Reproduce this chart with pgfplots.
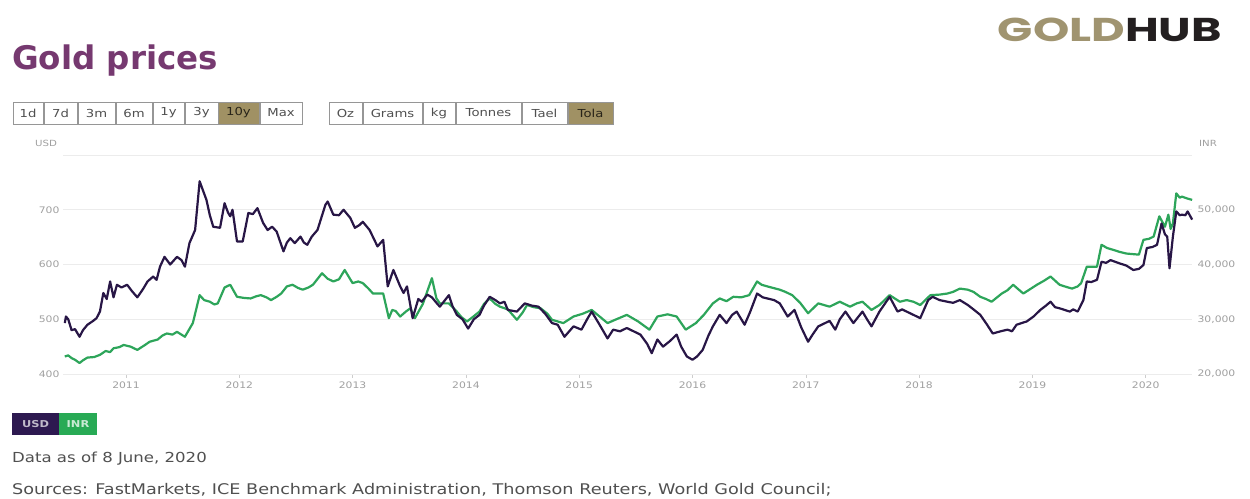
\documentclass[border=0pt]{standalone}
\usepackage{fontspec}
\usepackage{graphicx}
\usepackage{pgfplots}
\pgfplotsset{compat=1.18}
\setmainfont{DejaVu Sans}
\newfontfamily\sm{DejaVu Sans}[FakeStretch=1.2]
\newfontfamily\logofont{Poppins}
\definecolor{titlecol}{RGB}{118,57,112}
\definecolor{goldcol}{RGB}{160,148,112}
\definecolor{hubcol}{RGB}{35,31,32}
\definecolor{hilite}{RGB}{160,145,100}
\definecolor{btnborder}{RGB}{150,150,150}
\definecolor{btntext}{RGB}{80,80,80}
\definecolor{usdcol}{RGB}{40,22,70}
\definecolor{inrcol}{RGB}{45,165,90}
\definecolor{usdbox}{RGB}{45,25,80}
\definecolor{inrbox}{RGB}{40,170,85}
\definecolor{gridcol}{RGB}{236,236,236}
\definecolor{axiscol}{RGB}{205,205,205}
\definecolor{tickcol}{RGB}{160,160,160}
\definecolor{foottext}{RGB}{80,80,80}

\pgfplotstableread{
x y
2010.46 493
2010.47 505
2010.49 500
2010.52 480
2010.55 482
2010.59 468
2010.62 480
2010.66 490
2010.71 497
2010.74 502
2010.77 514
2010.80 548
2010.83 537
2010.86 569
2010.89 540
2010.92 563
2010.96 558
2011.01 563
2011.05 552
2011.10 540
2011.15 555
2011.19 569
2011.24 578
2011.27 572
2011.30 596
2011.34 614
2011.39 600
2011.45 614
2011.49 608
2011.52 596
2011.56 639
2011.61 663
2011.65 752
2011.68 735
2011.71 718
2011.74 690
2011.77 669
2011.83 667
2011.87 712
2011.90 695
2011.92 688
2011.94 700
2011.98 642
2012.03 642
2012.08 694
2012.12 692
2012.16 703
2012.21 676
2012.25 663
2012.29 669
2012.33 660
2012.39 624
2012.42 640
2012.45 648
2012.49 639
2012.54 651
2012.57 640
2012.60 636
2012.64 651
2012.69 663
2012.76 709
2012.78 715
2012.83 691
2012.88 690
2012.92 700
2012.98 685
2013.02 667
2013.06 672
2013.09 678
2013.15 663
2013.22 633
2013.27 645
2013.31 560
2013.36 590
2013.39 575
2013.42 560
2013.45 548
2013.48 560
2013.53 502
2013.58 537
2013.61 532
2013.66 545
2013.70 540
2013.74 530
2013.77 523
2013.85 544
2013.88 525
2013.92 508
2013.97 500
2014.02 483
2014.07 500
2014.12 508
2014.16 525
2014.21 541
2014.26 535
2014.30 529
2014.34 532
2014.37 517
2014.45 514
2014.52 529
2014.58 525
2014.64 523
2014.70 510
2014.76 493
2014.81 490
2014.87 468
2014.95 487
2015.02 481
2015.07 500
2015.11 514
2015.18 490
2015.25 465
2015.30 481
2015.36 478
2015.42 484
2015.48 478
2015.54 472
2015.60 455
2015.64 438
2015.69 463
2015.74 450
2015.80 460
2015.86 472
2015.90 450
2015.95 432
2016.00 426
2016.04 432
2016.09 444
2016.14 470
2016.18 487
2016.24 508
2016.30 493
2016.35 508
2016.39 514
2016.46 490
2016.51 514
2016.57 547
2016.62 540
2016.66 538
2016.72 535
2016.77 529
2016.84 505
2016.90 517
2016.96 485
2017.02 459
2017.06 472
2017.11 487
2017.21 497
2017.26 481
2017.30 500
2017.35 514
2017.42 493
2017.50 514
2017.54 500
2017.58 487
2017.65 514
2017.74 541
2017.81 514
2017.85 518
2017.89 514
2018.01 502
2018.08 535
2018.12 541
2018.18 535
2018.25 532
2018.30 530
2018.36 535
2018.43 526
2018.48 518
2018.54 508
2018.60 490
2018.65 474
2018.72 478
2018.78 481
2018.82 478
2018.86 490
2018.95 496
2019.01 505
2019.07 517
2019.12 525
2019.16 532
2019.20 522
2019.24 520
2019.33 514
2019.36 518
2019.40 514
2019.45 535
2019.48 569
2019.52 568
2019.57 572
2019.61 605
2019.65 603
2019.69 608
2019.77 602
2019.83 598
2019.89 590
2019.94 592
2019.98 599
2020.01 630
2020.06 632
2020.10 636
2020.14 675
2020.17 655
2020.19 651
2020.21 593
2020.24 651
2020.27 697
2020.30 690
2020.32 691
2020.35 690
2020.37 697
2020.41 682
}\usdtable

\pgfplotstableread{
x y
2010.46 23200
2010.49 23400
2010.52 22900
2010.55 22600
2010.59 22000
2010.62 22500
2010.66 23000
2010.72 23100
2010.77 23500
2010.82 24200
2010.86 24000
2010.89 24700
2010.94 24900
2010.98 25300
2011.04 25000
2011.10 24400
2011.16 25200
2011.21 25900
2011.28 26300
2011.32 27000
2011.36 27400
2011.41 27200
2011.45 27700
2011.52 26800
2011.59 29300
2011.65 34400
2011.69 33500
2011.74 33200
2011.78 32700
2011.81 32900
2011.87 35800
2011.92 36300
2011.98 34100
2012.04 33900
2012.10 33800
2012.15 34200
2012.19 34400
2012.24 34000
2012.28 33500
2012.33 34100
2012.37 34700
2012.42 36000
2012.47 36300
2012.52 35700
2012.56 35400
2012.61 35800
2012.65 36300
2012.73 38400
2012.78 37400
2012.83 36900
2012.88 37300
2012.93 39000
2013.00 36600
2013.05 36900
2013.09 36600
2013.14 35600
2013.18 34700
2013.27 34700
2013.32 30200
2013.35 31700
2013.38 31500
2013.42 30500
2013.47 31400
2013.51 32000
2013.55 30200
2013.62 32800
2013.70 37500
2013.74 33800
2013.77 32900
2013.85 32900
2013.92 31400
2013.96 30400
2014.01 29600
2014.06 30400
2014.12 31400
2014.16 32800
2014.21 33800
2014.26 32800
2014.30 32300
2014.37 31800
2014.45 29900
2014.50 31200
2014.54 32600
2014.60 32200
2014.66 32000
2014.72 31000
2014.76 29900
2014.86 29300
2014.95 30500
2015.03 31000
2015.11 31700
2015.18 30500
2015.25 29300
2015.34 30100
2015.42 30800
2015.52 29600
2015.62 28100
2015.69 30500
2015.78 30900
2015.86 30500
2015.94 28100
2016.03 29300
2016.10 30800
2016.18 32900
2016.24 33800
2016.30 33300
2016.36 34100
2016.43 34000
2016.50 34400
2016.57 36900
2016.61 36300
2016.66 36000
2016.77 35400
2016.82 35000
2016.88 34400
2016.95 33000
2017.02 31100
2017.11 32900
2017.16 32600
2017.21 32300
2017.30 33200
2017.39 32300
2017.45 32900
2017.50 33200
2017.58 31700
2017.65 32600
2017.74 34400
2017.83 33200
2017.89 33500
2017.95 33200
2018.01 32600
2018.10 34400
2018.18 34500
2018.25 34700
2018.30 35000
2018.36 35600
2018.43 35400
2018.48 35000
2018.54 34100
2018.59 33700
2018.64 33200
2018.73 34700
2018.78 35300
2018.83 36300
2018.88 35400
2018.92 34700
2018.98 35500
2019.04 36300
2019.10 37000
2019.16 37800
2019.24 36300
2019.30 35900
2019.35 35600
2019.40 36000
2019.43 36600
2019.48 39600
2019.57 39600
2019.61 43600
2019.66 43000
2019.71 42700
2019.77 42300
2019.83 42000
2019.94 41800
2019.98 44500
2020.03 44700
2020.07 45100
2020.12 48800
2020.17 46900
2020.20 49100
2020.22 46500
2020.24 47500
2020.27 53000
2020.30 52200
2020.32 52400
2020.36 52100
2020.41 51800
}\inrtable

\begin{document}
\begin{tikzpicture}[x=1pt,y=1pt]
\useasboundingbox[fill=white] (0,0) rectangle (1250,498);

% title and logo
\node[anchor=base west, inner sep=0, text=titlecol, font=\fontsize{32.5}{32.5}\selectfont\bfseries] at (12,428) {Gold prices};
\node[anchor=base east, inner sep=0, font=\logofont\fontsize{33}{33}\selectfont\bfseries] at (1222,456)
  {\scalebox{1.4}[1]{\textcolor{goldcol}{GOLD}\textcolor{hubcol}{HUB}}};

% buttons
\foreach \a/\b/\t in {13/43/1d, 44/77/7d, 78/115/3m, 116/152/6m, 153/184/1y, 185/218/3y, 260/302/Max,
                      329/362/Oz, 363/422/Grams, 423/455/kg, 456/521/Tonnes, 522/567/Tael}{
  \draw[btnborder, line width=0.8pt, fill=white] (\a,374) rectangle (\b,396);
  \node[text=btntext, font=\sm\fontsize{11}{11}\selectfont, inner sep=0] at ({(\a+\b)/2},385) {\t};
}
\foreach \a/\b/\t in {218/259/10y, 568/613/Tola}{
  \draw[btnborder, line width=0.8pt, fill=hilite] (\a,374) rectangle (\b,396);
  \node[text=black!75!hilite, font=\sm\fontsize{11}{11}\selectfont, inner sep=0] at ({(\a+\b)/2},385) {\t};
}

% axis titles
\node[text=tickcol, font=\sm\fontsize{8.5}{8.5}\selectfont, inner sep=0] at (46,355) {USD};
\node[text=tickcol, font=\sm\fontsize{8.5}{8.5}\selectfont, inner sep=0] at (1208,355) {INR};

% INR axis (right) with grid
\begin{axis}[
  at={(63pt,124pt)}, anchor=south west, scale only axis,
  width=1129pt, height=219pt,
  xmin=2010.444, xmax=2020.409, ymin=20000, ymax=60000,
  axis y line*=right, axis x line*=bottom,
  axis line style={draw=none},
  scaled y ticks=false,
  ytick={20000,30000,40000,50000,60000},
  yticklabels={20{,}000,30{,}000,40{,}000,50{,}000,},
  ymajorgrids, major grid style={gridcol, line width=0.8pt},
  ytick style={draw=none},
  extra y ticks={20000}, extra y tick labels={},
  extra y tick style={grid style={axiscol, line width=0.9pt}},
  xtick={2011,2012,2013,2014,2015,2016,2017,2018,2019,2020},
  xticklabels={2011,2012,2013,2014,2015,2016,2017,2018,2019,2020},
  xtick style={draw=axiscol, line width=0.6pt},
  major tick length=4pt, tick align=outside,
  xticklabel style={text=tickcol, font=\sm\fontsize{9}{9}\selectfont, yshift=0pt},
  yticklabel style={text=tickcol, font=\sm\fontsize{9}{9}\selectfont, xshift=-2pt},
  clip=false,
]
\addplot[inrcol, line width=2.2pt, line join=round] table[x=x,y=y] {\inrtable};
\end{axis}

% USD axis (left)
\begin{axis}[
  at={(63pt,124pt)}, anchor=south west, scale only axis,
  width=1129pt, height=219pt,
  xmin=2010.444, xmax=2020.409, ymin=400, ymax=800,
  axis y line*=left, axis x line=none,
  axis line style={draw=none},
  ytick={400,500,600,700},
  yticklabels={400,500,600,700},
  ytick style={draw=none},
  yticklabel style={text=tickcol, font=\sm\fontsize{9}{9}\selectfont, xshift=0pt},
  clip=false,
]
\addplot[usdcol, line width=2.2pt, line join=round] table[x=x,y=y] {\usdtable};
\end{axis}

% legend boxes
\fill[usdbox] (12,63) rectangle (59,85);
\node[text=usdbox!30!white, font=\sm\fontsize{9.5}{9.5}\selectfont\bfseries, inner sep=0] at (35.5,74) {USD};
\fill[inrbox] (59,63) rectangle (97,85);
\node[text=inrbox!25!white, font=\sm\fontsize{9.5}{9.5}\selectfont\bfseries, inner sep=0] at (78,74) {INR};

% footer
\node[anchor=base west, inner sep=0, text=foottext, font=\sm\fontsize{13.8}{13.8}\selectfont] at (12,35) {Data as of 8 June, 2020};
\node[anchor=base west, inner sep=0, text=foottext, font=\sm\fontsize{14.7}{14.7}\selectfont] at (12,4) {Sources: FastMarkets, ICE Benchmark Administration, Thomson Reuters, World Gold Council;};
\end{tikzpicture}
\end{document}
